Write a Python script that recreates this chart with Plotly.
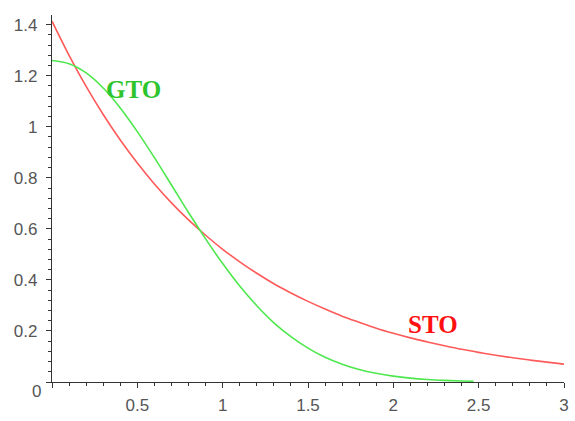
import plotly.graph_objects as go

# Data
sto_x = [0.0, 0.1, 0.2, 0.3, 0.4, 0.5, 0.6, 0.7, 0.8, 0.9, 1.0,
         1.1, 1.2, 1.3, 1.4, 1.5, 1.6, 1.7, 1.8, 1.9, 2.0,
         2.1, 2.2, 2.3, 2.4, 2.5, 2.6, 2.7, 2.8, 2.9, 3.0]
sto_y = [1.414, 1.280, 1.158, 1.048, 0.948, 0.858, 0.776, 0.702, 0.635, 0.575, 0.520,
         0.471, 0.426, 0.385, 0.349, 0.316, 0.286, 0.258, 0.234, 0.211, 0.191,
         0.173, 0.157, 0.142, 0.128, 0.116, 0.105, 0.095, 0.086, 0.078, 0.070]

gto_x = [0.0, 0.1, 0.2, 0.3, 0.4, 0.5, 0.6, 0.7, 0.8, 0.9, 1.0,
         1.1, 1.2, 1.3, 1.4, 1.5, 1.6, 1.7, 1.8, 1.9, 2.0,
         2.1, 2.2, 2.3, 2.4, 2.47]
gto_y = [1.260, 1.247, 1.211, 1.152, 1.074, 0.981, 0.879, 0.772, 0.664, 0.561, 0.464,
         0.376, 0.299, 0.232, 0.178, 0.133, 0.097, 0.070, 0.049, 0.034, 0.023,
         0.0153, 0.0100, 0.0064, 0.0040, 0.0028]

labels = [("GTO", 0.48, 1.145, "#2ec42e"), ("STO", 2.23, 0.227, "#ff1010")]

fig = go.Figure()
fig.add_trace(go.Scatter(x=sto_x, y=sto_y, mode="lines",
                         line=dict(color="#ff5a5a", width=1.6, shape="spline"),
                         showlegend=False, hoverinfo="skip"))
fig.add_trace(go.Scatter(x=gto_x, y=gto_y, mode="lines",
                         line=dict(color="#4ee84e", width=1.6, shape="spline"),
                         showlegend=False, hoverinfo="skip"))

for txt, lx, ly, col in labels:
    fig.add_annotation(x=lx, y=ly, text="<b>" + txt + "</b>", showarrow=False,
                       font=dict(family="Liberation Serif, Times New Roman, serif",
                                 size=25, color=col),
                       xanchor="center", yanchor="middle")

tickfont = dict(family="Liberation Sans, Arial, sans-serif", size=17, color="#555")

# origin label placed like the reference (below-left of the origin)
fig.add_annotation(xref="paper", x=0, y=0, text="0", showarrow=False,
                   xanchor="right", yanchor="top", xshift=-9, yshift=2,
                   font=tickfont)

fig.update_xaxes(range=[0, 3], showgrid=False, zeroline=False,
                 showline=True, linecolor="#333", linewidth=1.2,
                 tickmode="linear", tick0=0, dtick=0.5, labelalias={"0": " "},
                 ticks="outside", ticklen=5, tickcolor="#333", tickwidth=1.2,
                 ticklabelstandoff=2,
                 minor=dict(dtick=0.1, tick0=0, ticks="outside", ticklen=3,
                            tickcolor="#333", tickwidth=1.2, showgrid=False),
                 tickfont=tickfont)
fig.update_yaxes(range=[0, 1.438], showgrid=False, zeroline=False,
                 showline=True, linecolor="#333", linewidth=1.2,
                 tickmode="linear", tick0=0, dtick=0.2, labelalias={"0": " "},
                 ticks="outside", ticklen=5, tickcolor="#333", tickwidth=1.2,
                 ticklabelstandoff=5,
                 minor=dict(dtick=0.04, tick0=0, ticks="outside", ticklen=3,
                            tickcolor="#333", tickwidth=1.2, showgrid=False),
                 tickfont=tickfont)

fig.update_layout(width=575, height=421,
                  margin=dict(l=52, r=6, t=15, b=25),
                  plot_bgcolor="white", paper_bgcolor="white")

fig.write_html("out.html")
